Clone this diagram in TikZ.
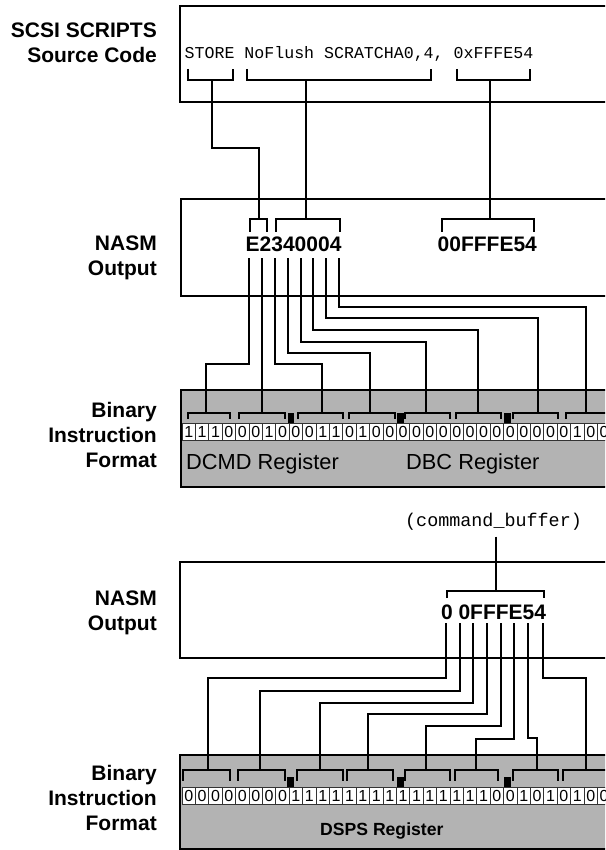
\documentclass[tikz,border=0pt]{standalone}
\usepackage{fontspec}
\setmainfont{Liberation Sans}
\newfontfamily\codefont{Liberation Mono}
\definecolor{boxgray}{RGB}{179,179,179}
\tikzset{
  frame/.style={draw=black, line width=2pt, fill=white},
  graybox/.style={fill=boxgray, draw=black, line width=2pt},
  wire/.style={draw=black, line width=1.7pt},
  brk/.style={draw=black, line width=1.8pt},
  cell/.style={fill=white, draw=black!80, line width=0.9pt},
  sq/.style={fill=black, draw=none},
  lbl/.style={font=\bfseries\fontsize{21}{24}\selectfont, anchor=base east, inner sep=0pt},
  hex/.style={font=\bfseries\fontsize{21}{24}\selectfont, anchor=base west, inner sep=0pt},
  code/.style={font=\codefont\fontsize{16.6}{20}\selectfont, anchor=base west, inner sep=0pt},
  bitfont/.style={font=\fontsize{16}{16}\selectfont, inner sep=0pt},
  reg/.style={font=\fontsize{21.8}{24}\selectfont, anchor=base west, inner sep=0pt},
  regb/.style={font=\bfseries\fontsize{17.6}{20}\selectfont, anchor=base west, inner sep=0pt}
}
\begin{document}
\begin{tikzpicture}[x=1pt,y=-1pt]
\useasboundingbox (0,0) rectangle (605,850);
\clip (0,0) rectangle (605,850);
\fill[white] (0,0) rectangle (605,850);

% ---------- left labels ----------
\node[lbl] (la1) at (157,38) {SCSI SCRIPTS};
\node[lbl] (la2) at (157,63) {Source Code};
\node[lbl] (lb1) at (157,250) {NASM};
\node[lbl] (lb2) at (157,275) {Output};
\node[lbl] (lc1) at (157,417) {Binary};
\node[lbl] (lc2) at (157,442) {Instruction};
\node[lbl] (lc3) at (157,467) {Format};
\node[lbl] (ld1) at (157,605) {NASM};
\node[lbl] (ld2) at (157,630) {Output};
\node[lbl] (le1) at (157,780) {Binary};
\node[lbl] (le2) at (157,805) {Instruction};
\node[lbl] (le3) at (157,830) {Format};

% ---------- boxes ----------
\draw[frame] (180,6) rectangle (640,102);
\draw[frame] (181,199) rectangle (640,296);
\draw[graybox] (181,390) rectangle (640,487);
\draw[frame] (180,562) rectangle (640,658);
\draw[graybox] (180,755) rectangle (640,849);

% ---------- source code ----------
\node[code] (src) at (184.5,59) {STORE NoFlush SCRATCHA0,4, 0xFFFE54};
\draw[brk] (188.3,69) |- (232.7,80) -- (232.7,69);
\draw[brk] (246.7,69) |- (430.7,80) -- (430.7,69);
\draw[brk] (456.7,69) |- (530,80) -- (530,69);

% ---------- NASM output 1 ----------
\node[hex] (h1) at (245.5,251.7) {E2340004};
\node[hex] (h2) at (437.5,251.7) {00FFFE54};
\draw[brk] (250,231.7) |- (266.7,219) -- (266.7,231.7);
\draw[brk] (276,231.7) |- (340,219) -- (340,231.7);
\draw[brk] (442,231.7) |- (534,219) -- (534,231.7);

\coordinate (c1) at (211.7,80);
\coordinate (c1e) at (259,219);
\draw[wire] (c1) -- (211.7,148) -| (c1e);
\coordinate (c2) at (305.7,80);
\coordinate (c2e) at (305.7,219);
\draw[wire] (c2) -- (c2e);
\coordinate (c3) at (490,80);
\coordinate (c3e) at (490,219);
\draw[wire] (c3) -- (c3e);

% connectors E2340004 -> bit groups
\foreach \xd/\yj/\xt [count=\k] in {249/364/205.7, 262.3/380/262.3, 275/364/321.7, 288.3/353.3/370,
  300.7/341.7/426, 313.3/330/477.7, 326/318.3/538.3, 339.3/306.7/586}{
  \coordinate (p\k) at (\xd,258);
  \coordinate (q\k) at (\xt,412.7);
  \draw[wire] (p\k) |- (\xt,\yj) -- (q\k);
}

% ---------- binary format 1 ----------
\foreach \xa/\xb in {188/230, 239/285, 298/343, 349/395, 405/450, 456/501, 513/558, 566/611}{
  \draw[brk] (\xa,419) |- (\xb,412.7) -- (\xb,419);
}
\foreach \xs in {287.5, 397, 504}{
  \fill[sq] (\xs,412.7) rectangle ++(6.5,10.3);
}
\foreach \b [count=\i from 0] in {1,1,1,0,0,0,1,0,0,0,1,1,0,1,0,0,0,0,0,0,0,0,0,0,0,0,0,0,0,1,0,0}{
  \pgfmathsetmacro\xa{182+13.4*\i}
  \draw[cell] (\xa,423) rectangle ++(13.4,17);
  \node[bitfont] (ba\i) at (\xa+6.7,431.7) {\b};
}
\node[reg] (dcmd) at (186,469) {DCMD Register};
\node[reg] (dbc) at (406,469) {DBC Register};

% ---------- command buffer ----------
\node[font=\codefont\fontsize{18.4}{20}\selectfont, anchor=base west, inner sep=0pt] (cb) at (405,526) {(command\_buffer)};
\coordinate (cbs) at (495.7,536.7);
\coordinate (cbe) at (495.7,590.7);
\draw[wire] (cbs) -- (cbe);
\draw[brk] (446.7,598) |- (544,590.7) -- (544,598);

% ---------- NASM output 2 ----------
\node[hex] (h3) at (440.8,619.3) {0 0FFFE54};
\foreach \xd/\yj/\xt [count=\k] in {446/678.3/207.7, 460/690.7/260, 473.3/702.7/320, 487.3/714/368.3,
  501/725.7/426, 514.3/739.3/476, 528.3/737.7/536.7, 542.7/678.3/585.7}{
  \coordinate (r\k) at (\xd,623);
  \coordinate (s\k) at (\xt,770);
  \draw[wire] (r\k) |- (\xt,\yj) -- (s\k);
}

% ---------- binary format 2 ----------
\foreach \xa/\xb in {183.3/230, 238.3/285, 296.7/343.3, 346.7/393.3, 405/450, 455/498.3, 513.3/558.3, 563.3/610}{
  \draw[brk] (\xa,780.7) |- (\xb,770) -- (\xb,780.7);
}
\foreach \xs in {287, 397, 504}{
  \fill[sq] (\xs,776.7) rectangle ++(6.5,10.3);
}
\foreach \b [count=\i from 0] in {0,0,0,0,0,0,0,0,1,1,1,1,1,1,1,1,1,1,1,1,1,1,1,0,0,1,0,1,0,1,0,0}{
  \pgfmathsetmacro\xa{182+13.4*\i}
  \draw[cell] (\xa,787) rectangle ++(13.4,17);
  \node[bitfont] (bb\i) at (\xa+6.7,795.7) {\b};
}
\node[regb] (dsps) at (320,835) {DSPS Register};
\end{tikzpicture}
\end{document}
